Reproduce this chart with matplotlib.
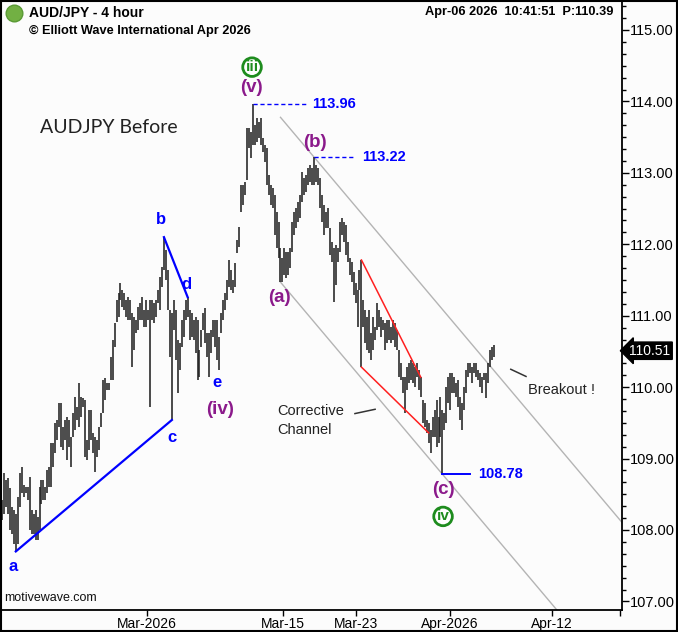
import matplotlib
matplotlib.use("Agg")
import matplotlib.pyplot as plt
from matplotlib.ticker import FixedLocator, AutoMinorLocator
import matplotlib.transforms as mtrans
from matplotlib.patches import Rectangle
import numpy as np

plt.rcParams['font.family'] = ['Liberation Sans', 'DejaVu Sans']

# ---------------- data: 4-hour bar highs / lows (AUD/JPY) ----------------
highs = [108.42, 108.80, 108.70, 108.73, 108.59, 108.32, 108.28, 108.23, 108.46, 108.80,
         108.88, 108.63, 108.60, 108.60, 108.74, 108.28, 108.23, 108.28, 108.18, 108.60,
         108.70, 108.70, 108.60, 108.84, 108.88, 109.22, 109.22, 109.50, 109.54, 109.78,
         109.78, 109.44, 109.54, 109.58, 109.54, 109.30, 109.64, 109.86, 109.72, 110.06,
         109.86, 109.85, 109.82, 109.26, 109.68, 109.68, 109.36, 109.30, 109.26, 109.44,
         109.64, 110.10, 110.13, 110.06, 110.06, 110.42, 110.66, 110.90, 111.22, 111.32,
         111.46, 111.36, 111.32, 111.22, 111.26, 111.22, 111.04, 110.98, 110.94, 111.12,
         111.18, 111.26, 111.08, 111.22, 111.08, 111.22, 111.22, 111.18, 111.22, 111.36,
         111.54, 111.68, 112.10, 111.92, 111.64, 111.08, 111.04, 111.22, 111.08, 110.66,
         110.62, 110.94, 111.08, 111.22, 111.26, 111.08, 111.04, 110.94, 110.98, 110.94,
         110.52, 110.80, 111.04, 111.11, 110.76, 110.76, 110.80, 110.94, 110.94, 110.94,
         110.70, 111.04, 111.22, 111.32, 111.50, 111.78, 111.64, 111.50, 111.74, 112.06, 112.24,
         112.83, 112.83, 112.87, 113.63, 113.63, 113.57, 113.96, 113.67, 113.77,
         113.71, 113.77, 113.49, 113.39, 113.35, 112.97, 112.83, 112.79, 112.69, 112.45,
         112.31, 111.95, 111.81, 111.95, 111.89, 111.89, 111.95, 112.31, 112.45, 112.51,
         112.59, 112.69, 113.01, 112.93, 112.97, 113.07, 113.11, 113.07, 113.22, 113.11,
         113.07, 112.93, 112.69, 112.55, 112.45, 112.51, 112.23, 112.03, 111.95, 111.99,
         111.95, 112.31, 112.37, 112.31, 112.27, 112.03, 111.81, 111.75, 111.61,
         111.46, 111.36, 111.64, 111.78, 111.22, 111.08, 110.98, 111.08, 110.76, 110.98, 110.84,
         111.18, 111.08, 110.98, 110.94, 110.90, 110.94, 110.94, 110.84, 110.94, 110.90,
         110.80, 110.52, 110.34, 110.14, 110.14, 110.28, 110.34, 110.38, 110.34, 110.28,
         110.34, 110.24, 110.14, 109.82, 109.78, 109.54, 109.50, 109.40, 109.58, 109.68,
         109.82, 109.58, 109.86, 109.68, 109.64, 110.00, 110.14, 110.20, 110.20, 110.14,
         110.06, 110.10, 109.86, 109.78, 110.00, 110.24, 110.34, 110.34, 110.28, 110.34,
         110.34, 110.24, 110.20, 110.14, 110.20, 110.20, 110.34, 110.52, 110.56, 110.59]

lows = [108.14, 108.23, 108.32, 108.23, 108.00, 107.95, 107.81, 107.70, 107.81, 108.32,
        108.52, 108.46, 108.52, 108.42, 108.00, 107.95, 107.95, 107.86, 107.86, 108.00,
        108.37, 108.42, 108.42, 108.52, 108.60, 108.60, 108.88, 109.08, 109.26, 109.44,
        109.16, 109.12, 109.26, 108.98, 109.16, 108.88, 109.30, 109.40, 109.54, 109.44,
        109.58, 109.72, 109.02, 108.98, 109.12, 109.26, 109.08, 108.81, 109.02, 109.12,
        109.44, 109.64, 109.82, 109.96, 109.96, 110.10, 110.10, 110.56, 110.91, 110.98,
        111.22, 111.12, 111.08, 110.98, 110.94, 110.94, 110.28, 110.52, 110.76, 110.80,
        110.94, 110.94, 110.84, 110.84, 110.94, 109.72, 110.94, 110.90, 110.98, 111.18,
        111.08, 111.40, 111.64, 111.50, 111.08, 110.42, 109.54, 110.80, 110.38, 109.92,
        110.24, 110.56, 110.70, 110.94, 110.98, 110.66, 110.70, 110.66, 110.48, 110.10,
        110.14, 110.56, 110.80, 110.62, 110.42, 110.14, 110.48, 110.70, 110.56, 110.38,
        110.24, 110.76, 110.94, 111.08, 111.22, 111.40, 111.36, 111.32, 111.40, 111.88, 111.96,
        112.45, 112.55, 112.69, 112.90, 113.35, 113.21, 113.39, 113.39, 113.43,
        113.49, 113.39, 113.29, 113.15, 112.83, 112.69, 112.55, 112.51, 112.13, 111.95,
        111.81, 111.47, 111.47, 111.57, 111.53, 111.57, 111.67, 111.89, 112.13, 112.23,
        112.31, 112.37, 112.59, 112.69, 112.73, 112.83, 112.87, 112.83, 112.83, 112.87,
        112.83, 112.51, 112.31, 112.13, 112.23, 112.23, 111.85, 111.75, 111.19, 111.43,
        111.75, 111.89, 112.13, 112.03, 111.85, 111.75, 111.57, 111.47, 111.29,
        111.18, 110.84, 111.36, 110.28, 110.84, 110.62, 110.52, 110.48, 110.38, 110.52, 110.66,
        110.80, 110.84, 110.70, 110.80, 110.52, 110.62, 110.66, 110.62, 110.66, 110.56,
        110.52, 110.14, 110.10, 109.92, 109.64, 109.96, 110.06, 110.10, 110.06, 110.00,
        110.14, 109.96, 109.86, 109.50, 109.44, 109.36, 109.22, 109.08, 109.30, 109.30,
        109.16, 109.22, 109.30, 108.78, 109.40, 109.50, 109.78, 109.68, 109.92, 109.92,
        109.86, 109.72, 109.54, 109.40, 109.68, 109.92, 110.14, 110.20, 110.06, 110.20,
        110.14, 110.10, 110.00, 109.92, 110.10, 109.85, 110.06, 110.28, 110.38, 110.42]

# time axis (bar index positions of date labels)
date_tick_pos = [73.4, 142.3, 179.2, 226.8, 278.5, 312.9]
date_tick_labels = ['Mar-2026', 'Mar-15', 'Mar-23', 'Apr-2026', 'Apr-12', '']
price_ticks = [107.0, 108.0, 109.0, 110.0, 111.0, 112.0, 113.0, 114.0, 115.0]

# wave-count anchor points (bar index, price)
abc_line = ([7, 86], [107.70, 109.54])
bd_line = ([82, 94], [112.10, 111.26])
wedge_top = ([182, 212], [111.78, 110.14])
wedge_bot = ([182, 216], [110.28, 109.36])
chan_slope = -0.0328
chan_upper_anchor = (158, 113.22)
chan_lower_anchor = (141, 111.47)
last_price = 110.51

n = min(len(highs), len(lows))
x = np.arange(n)
H = np.array(highs[:n]); L = np.array(lows[:n])

fig = plt.figure(figsize=(6.78, 6.32), dpi=100)
fig.patch.set_facecolor('#fcfcfc')
ax = fig.add_axes([0, 22/632, 622/678, 610/632])
ax.set_facecolor('#fcfcfc')

ax.set_xlim(-1.0, 313.9)
ax.set_ylim(106.88, 115.42)

# bars
ax.vlines(x, L, H, color='#222222', lw=1.15, zorder=3)

# channel
cx = np.array([141, 330])
ax.plot(cx, chan_upper_anchor[1] + chan_slope*(cx - chan_upper_anchor[0]), color='#b4b4b4', lw=1.0, zorder=2)
ax.plot(cx, chan_lower_anchor[1] + chan_slope*(cx - chan_lower_anchor[0]), color='#b4b4b4', lw=1.0, zorder=2)

# blue wave lines
ax.plot(*abc_line, color='#0000ff', lw=1.6, zorder=4)
ax.plot(*bd_line, color='#0000ff', lw=1.6, zorder=4)

# red wedge
ax.plot(*wedge_top, color='#ff2020', lw=1.1, zorder=4)
ax.plot(*wedge_bot, color='#ff2020', lw=1.1, zorder=4)

# price level markers
ax.plot([127, 154], [113.96, 113.96], color='#0000ff', lw=1.0, ls=(0, (3, 2)), zorder=4)
ax.text(157, 113.96, '113.96', color='#0000ff', fontsize=10.5, fontweight='bold', va='center', ha='left')
ax.plot([158, 178], [113.22, 113.22], color='#0000ff', lw=1.0, ls=(0, (3, 2)), zorder=4)
ax.text(182.3, 113.22, '113.22', color='#0000ff', fontsize=10.5, fontweight='bold', va='center', ha='left')
ax.plot([223, 237], [108.78, 108.78], color='#0000ff', lw=1.4, zorder=4)
ax.text(241, 108.78, '108.78', color='#0000ff', fontsize=10.5, fontweight='bold', va='center', ha='left')

# wave labels
blue = '#0000ff'; purple = '#8b1a8b'; green = '#1e8c1e'
def lab(xx, yy, s, c, fs=12.5):
    ax.text(xx, yy, s, color=c, fontsize=fs, fontweight='bold', ha='center', va='center', zorder=6)
lab(5.6, 107.49, 'a', blue, 12)
lab(80.5, 112.34, 'b', blue, 12)
lab(86.1, 109.30, 'c', blue, 12)
lab(93.2, 111.44, 'd', blue, 12)
lab(108.9, 110.06, 'e', blue, 12)
lab(110.4, 109.68, '(iv)', purple, 13.5)
lab(126.1, 114.19, '(v)', purple, 13.5)
lab(140.3, 111.26, '(a)', purple, 13.5)
lab(158.5, 113.42, '(b)', purple, 13.5)
lab(223.3, 108.56, '(c)', purple, 13.5)

def circ(xx, yy, s):
    ax.text(xx, yy, s, color=green, fontsize=11, fontweight='bold', ha='center', va='center', zorder=6,
            bbox=dict(boxstyle='circle,pad=0.15', fc='white', ec=green, lw=2))
circ(126.6, 114.48, 'iii')
circ(223.3, 108.19, 'iv')

# commentary
ax.text(19.2, 113.63, 'AUDJPY Before', fontsize=14, family=['Lato', 'DejaVu Sans'], color='#222222',
        ha='left', va='center')
ax.text(139.2, 109.66, 'Corrective', fontsize=10.5, color='#222222', ha='left', va='center')
ax.text(139.2, 109.40, 'Channel', fontsize=10.5, color='#222222', ha='left', va='center')
ax.plot([178.7, 188.9], [109.63, 109.69], color='#333333', lw=1.1)
ax.text(266.3, 109.96, 'Breakout !', fontsize=10.5, color='#222222', ha='left', va='center')
ax.plot([257.6, 265.3], [110.25, 110.15], color='#333333', lw=1.1)

# axes styling
for s in ['left', 'top']:
    ax.spines[s].set_visible(False)
ax.spines['right'].set_linewidth(1.3)
ax.spines['bottom'].set_linewidth(1.3)
ax.yaxis.tick_right()
ax.yaxis.set_major_locator(FixedLocator(price_ticks))
ax.yaxis.set_minor_locator(AutoMinorLocator(6))
ax.set_yticklabels(['%.2f' % v for v in price_ticks])
ax.tick_params(axis='y', which='major', direction='out', length=5, width=1, labelsize=10.5, pad=1, colors='black')
ax.tick_params(axis='y', which='minor', direction='out', length=3, width=1)
ax.xaxis.set_major_locator(FixedLocator(date_tick_pos))
ax.set_xticklabels(date_tick_labels)
ax.tick_params(axis='x', which='major', direction='out', length=4, width=1, labelsize=10, pad=1)

# current price box
trans = mtrans.blended_transform_factory(ax.transAxes, ax.transData)
ax.text(1.012, last_price, '110.51', transform=trans, color='white', fontsize=10, ha='left', va='center',
        bbox=dict(boxstyle='larrow,pad=0.12', fc='black', ec='black'), clip_on=False, zorder=10)

# header
fig.text(29/678, 1 - 13/632, 'AUD/JPY - 4 hour', fontsize=10, fontweight='bold', ha='left', va='center')
fig.text(29/678, 1 - 31/632, '© Elliott Wave International Apr 2026', fontsize=9.2, fontweight='bold',
         ha='left', va='center')
fig.text(613/678, 1 - 12/632, 'Apr-06 2026  10:41:51  P:110.39', fontsize=9.2, fontweight='bold',
         ha='right', va='center')
ax.plot([14/622], [1 - 13/610], marker='o', ms=12, color='#72b043', mec='#5a9a35', transform=ax.transAxes,
        clip_on=False)
fig.text(4/678, 1 - 598/632, 'motivewave.com', fontsize=9, ha='left', va='center', color='#111111')

# outer frame
fig.add_artist(Rectangle((0.001, 0.001), 0.998, 0.998, transform=fig.transFigure, fill=False,
                         ec='black', lw=1.5))

fig.savefig('out.png', dpi=100, facecolor=fig.get_facecolor())
